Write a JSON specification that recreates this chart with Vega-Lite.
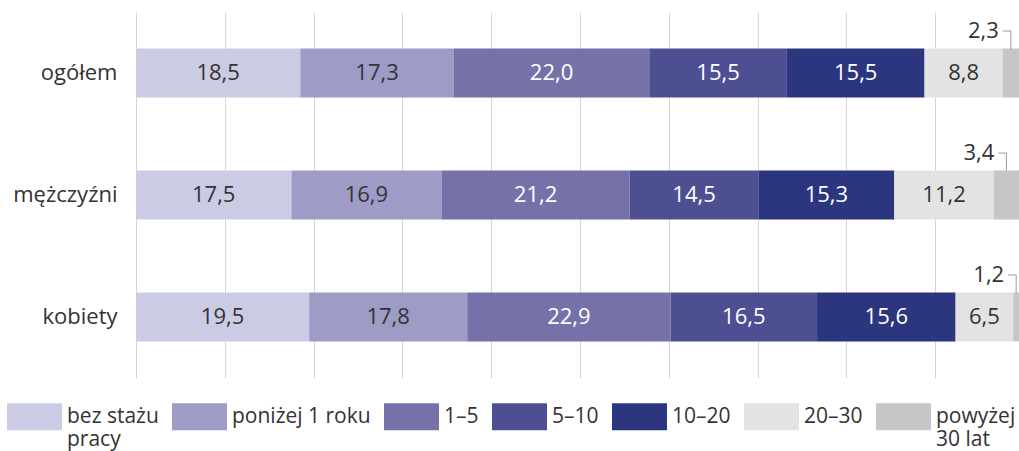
{
  "$schema": "https://vega.github.io/schema/vega-lite/v6.json",
  "width": 883,
  "height": 366,
  "autosize": {"type": "none"},
  "padding": {"left": 136, "top": 12, "right": 0, "bottom": 73},
  "background": "white",
  "config": {"view": {"stroke": null}, "font": "Open Sans"},
  "data": {
    "values": [
      {"cat": "ogółem", "s": "bez stażu pracy", "k": 1, "v": 18.5},
      {"cat": "ogółem", "s": "poniżej 1 roku", "k": 2, "v": 17.3},
      {"cat": "ogółem", "s": "1–5", "k": 3, "v": 22.0},
      {"cat": "ogółem", "s": "5–10", "k": 4, "v": 15.5},
      {"cat": "ogółem", "s": "10–20", "k": 5, "v": 15.5},
      {"cat": "ogółem", "s": "20–30", "k": 6, "v": 8.8},
      {"cat": "ogółem", "s": "powyżej 30 lat", "k": 7, "v": 2.3},
      {"cat": "mężczyźni", "s": "bez stażu pracy", "k": 1, "v": 17.5},
      {"cat": "mężczyźni", "s": "poniżej 1 roku", "k": 2, "v": 16.9},
      {"cat": "mężczyźni", "s": "1–5", "k": 3, "v": 21.2},
      {"cat": "mężczyźni", "s": "5–10", "k": 4, "v": 14.5},
      {"cat": "mężczyźni", "s": "10–20", "k": 5, "v": 15.3},
      {"cat": "mężczyźni", "s": "20–30", "k": 6, "v": 11.2},
      {"cat": "mężczyźni", "s": "powyżej 30 lat", "k": 7, "v": 3.4},
      {"cat": "kobiety", "s": "bez stażu pracy", "k": 1, "v": 19.5},
      {"cat": "kobiety", "s": "poniżej 1 roku", "k": 2, "v": 17.8},
      {"cat": "kobiety", "s": "1–5", "k": 3, "v": 22.9},
      {"cat": "kobiety", "s": "5–10", "k": 4, "v": 16.5},
      {"cat": "kobiety", "s": "10–20", "k": 5, "v": 15.6},
      {"cat": "kobiety", "s": "20–30", "k": 6, "v": 6.5},
      {"cat": "kobiety", "s": "powyżej 30 lat", "k": 7, "v": 1.2}
    ]
  },
  "transform": [
    {"stack": "v", "groupby": ["cat"], "sort": [{"field": "k", "order": "ascending"}], "as": ["x0", "x1"]},
    {"calculate": "(datum.x0 + datum.x1) / 2", "as": "xm"},
    {"calculate": "(datum.x0 + min(datum.x1, 99.44)) / 2", "as": "xv"},
    {"calculate": "datum.xv - 0.9", "as": "xh"},
    {"calculate": "replace(format(datum.v, '.1f'), '.', ',')", "as": "lab"}
  ],
  "encoding": {
    "y": {
      "field": "cat",
      "type": "nominal",
      "sort": ["ogółem", "mężczyźni", "kobiety"],
      "scale": {"paddingInner": 0.6, "paddingOuter": 0.3},
      "axis": {"title": null, "domain": false, "ticks": false, "labelFontSize": 22, "labelColor": "#333333", "labelPadding": 19, "labelFont": "Open Sans"}
    }
  },
  "layer": [
    {
      "mark": {"type": "bar", "clip": true},
      "encoding": {
        "x": {
          "field": "x0",
          "type": "quantitative",
          "scale": {"domain": [0, 99.44], "nice": false, "zero": false},
          "axis": {"title": null, "labels": false, "ticks": false, "domain": false, "grid": true, "gridColor": "#d6d6d6", "gridWidth": 1, "values": [0, 10, 20, 30, 40, 50, 60, 70, 80, 90]}
        },
        "x2": {"field": "x1"},
        "color": {
          "field": "s",
          "type": "nominal",
          "scale": {
            "domain": ["bez stażu pracy", "poniżej 1 roku", "1–5", "5–10", "10–20", "20–30", "powyżej 30 lat"],
            "range": ["#cbcbe3", "#9e9cc6", "#7571a9", "#4e4f93", "#2b367e", "#e3e3e3", "#c5c6c5"]
          },
          "legend": {
            "orient": "none",
            "legendX": -129,
            "legendY": 377,
            "direction": "horizontal",
            "columns": 7,
            "title": null,
            "padding": 0,
            "symbolType": "M-1,-0.49H1V0.49H-1Z",
            "symbolSize": 3025,
            "symbolStrokeWidth": 0,
            "symbolOpacity": 1,
            "labelFontSize": 21,
            "labelFont": "Open Sans",
            "labelColor": "#333333",
            "labelOffset": 5,
            "columnPadding": 13,
            "labelBaseline": "middle",
            "labelLimit": 300,
            "labelExpr": "datum.label == 'bez stażu pracy' ? ['bez stażu', 'pracy'] : datum.label == 'powyżej 30 lat' ? ['powyżej', '30 lat'] : [datum.label, '']"
          }
        }
      }
    },
    {
      "transform": [{"filter": "datum.k < 7"}],
      "mark": {"type": "text", "fontSize": 22, "font": "Open Sans"},
      "encoding": {
        "x": {"field": "xm", "type": "quantitative"},
        "text": {"field": "lab"},
        "color": {"condition": {"test": "datum.k >= 3 && datum.k <= 5", "value": "#ffffff"}, "value": "#333333"}
      }
    },
    {
      "transform": [{"filter": "datum.k == 7"}],
      "mark": {"type": "rule", "color": "#9a9a9a", "strokeWidth": 1, "yOffset": -42, "y2Offset": -24},
      "encoding": {
        "x": {"field": "xv", "type": "quantitative"},
        "y2": {"field": "cat"}
      }
    },
    {
      "transform": [{"filter": "datum.k == 7"}],
      "mark": {"type": "rule", "color": "#9a9a9a", "strokeWidth": 1, "yOffset": -42},
      "encoding": {
        "x": {"field": "xh", "type": "quantitative"},
        "x2": {"field": "xv"}
      }
    },
    {
      "transform": [{"filter": "datum.k == 7"}],
      "mark": {"type": "text", "fontSize": 22, "font": "Open Sans", "align": "right", "baseline": "alphabetic", "dx": -4, "dy": -35, "color": "#333333"},
      "encoding": {
        "x": {"field": "xh", "type": "quantitative"},
        "text": {"field": "lab"}
      }
    }
  ]
}
